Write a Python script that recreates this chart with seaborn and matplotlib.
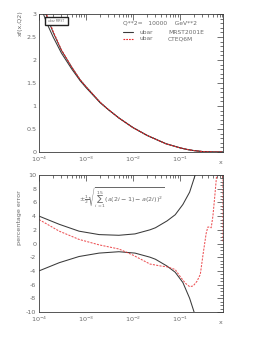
import numpy as np
import pandas as pd
import matplotlib
matplotlib.use("Agg")
import matplotlib.pyplot as plt
import matplotlib.ticker as mticker
from matplotlib.patches import Rectangle
import seaborn as sns

# ---- data ----
x_top = [1e-4, 1.5e-4, 2e-4, 3e-4, 5e-4, 7.5e-4, 1e-3, 2e-3, 3e-3, 5e-3, 1e-2,
         2e-2, 3e-2, 5e-2, 0.1, 0.15, 0.2, 0.3, 0.5, 0.82]
mrst_a = [3.25, 2.78, 2.50, 2.15, 1.80, 1.55, 1.40, 1.07, 0.92, 0.74, 0.53,
          0.36, 0.28, 0.18, 0.09, 0.05, 0.03, 0.01, 0.001, 0.0]
mrst_b = [3.40, 2.92, 2.60, 2.21, 1.84, 1.57, 1.42, 1.08, 0.92, 0.74, 0.53,
          0.36, 0.28, 0.18, 0.09, 0.05, 0.03, 0.01, 0.001, 0.0]
cteq = [3.45, 2.95, 2.62, 2.22, 1.84, 1.57, 1.42, 1.08, 0.92, 0.74, 0.53,
        0.36, 0.28, 0.18, 0.09, 0.05, 0.03, 0.01, 0.001, 0.0]

x_err = [1e-4, 2.7e-4, 7.1e-4, 1.9e-3, 5e-3, 1.1e-2, 2.3e-2, 3e-2, 5.3e-2,
         7.9e-2, 0.115, 0.16, 0.21, 0.25]
err_up = [4.0, 2.8, 1.8, 1.3, 1.2, 1.4, 2.0, 2.3, 3.3, 4.2, 5.7, 7.5, 10.0, 12.0]
err_lo = [-4.0, -2.8, -1.9, -1.4, -1.2, -1.4, -2.0, -2.3, -3.3, -4.2, -5.7, -8.0, -10.5, -12.0]

x_diff = [1e-4, 2.7e-4, 7.1e-4, 1.9e-3, 5e-3, 1e-2, 2.3e-2, 4e-2, 5.3e-2, 7.9e-2,
          0.1, 0.13, 0.16, 0.19, 0.23, 0.27, 0.31, 0.36, 0.39, 0.42, 0.46, 0.50,
          0.55, 0.61, 0.70, 0.819, 0.819]
diff = [3.5, 1.8, 0.6, -0.2, -0.8, -1.7, -3.0, -3.3, -3.4, -3.8,
        -4.8, -5.8, -6.3, -6.2, -5.5, -4.5, -1.5, 1.5, 2.4, 2.4, 2.3, 4.0,
        7.0, 10.5, 15.0, 15.0, 0.3]

legend_lines = ["Q**2=   10000    GeV**2", "ubar", "MRST2001E", "ubar", "CTEQ6M"]
formula = r"$\pm\frac{1}{2}\sqrt{\sum_{i=1}^{15}(a(2i-1)-a(2i))^{2}}$"

sns.set_style("white")
plt.rcParams['font.family'] = ['DejaVu Sans']
plt.rcParams['mathtext.fontset'] = 'dejavusans'

TXT = '#6a6a6a'
LC = '#3a3a3a'
RED = '#e8262a'
FS = 4.6

fig = plt.figure(figsize=(2.70, 3.49), dpi=100)
W, H = 270, 349
ax1 = fig.add_axes([39 / W, 1 - 152 / H, 184 / W, 138 / H])
ax2 = fig.add_axes([39 / W, 1 - 312 / H, 184 / W, 137 / H])

df_top = pd.DataFrame({"x": x_top, "a": mrst_a, "b": mrst_b, "c": cteq})
sns.lineplot(data=df_top, x="x", y="a", ax=ax1, color=LC, lw=0.75, estimator=None, sort=False)
sns.lineplot(data=df_top, x="x", y="b", ax=ax1, color=LC, lw=0.75, estimator=None, sort=False)
sns.lineplot(data=df_top, x="x", y="c", ax=ax1, color=RED, lw=0.75, estimator=None, sort=False,
             linestyle=(0, (2, 1.2)))

df_err = pd.DataFrame({"x": x_err, "up": err_up, "lo": err_lo})
sns.lineplot(data=df_err, x="x", y="up", ax=ax2, color=LC, lw=0.75, estimator=None, sort=False)
sns.lineplot(data=df_err, x="x", y="lo", ax=ax2, color=LC, lw=0.75, estimator=None, sort=False)
df_diff = pd.DataFrame({"x": x_diff, "d": diff})
sns.lineplot(data=df_diff, x="x", y="d", ax=ax2, color=RED, lw=0.75, estimator=None, sort=False,
             linestyle=(0, (2, 1.2)), alpha=0.8)

for ax, ylim, major, minor in [(ax1, (0, 3), 0.5, 0.1), (ax2, (-10, 10), 2, 0.5)]:
    ax.set_xscale('log')
    ax.set_xlim(1e-4, 0.82)
    ax.set_ylim(*ylim)
    ax.yaxis.set_major_locator(mticker.MultipleLocator(major))
    ax.yaxis.set_minor_locator(mticker.MultipleLocator(minor))
    ax.xaxis.set_major_locator(mticker.LogLocator(base=10, numticks=10))
    ax.xaxis.set_minor_locator(mticker.LogLocator(base=10, subs=np.arange(2, 10), numticks=20))
    ax.xaxis.set_major_formatter(mticker.LogFormatterMathtext())
    ax.tick_params(which='both', direction='in', top=True, right=True, colors=LC,
                   labelcolor=TXT, labelsize=FS, width=0.5, pad=2)
    ax.tick_params(which='major', length=4)
    ax.tick_params(which='minor', length=2)
    for s in ax.spines.values():
        s.set_linewidth(0.6)
        s.set_color(LC)
    ax.set_xlabel("")
    ax.set_ylabel("")
    ax.set_facecolor('white')

ax1.yaxis.set_major_formatter(mticker.FuncFormatter(lambda v, p: f"{v:g}"))
ax2.yaxis.set_major_formatter(mticker.FuncFormatter(lambda v, p: f"{v:g}"))

# axis labels (ROOT style)
fig.text(20 / W, 1 - 10 / H, "xf(x,Q2)", rotation=90, ha='center', va='top', fontsize=FS, color=TXT)
fig.text(20 / W, 1 - 190 / H, "percentage error", rotation=90, ha='center', va='top', fontsize=FS, color=TXT)
fig.text(221 / W, 1 - 163 / H, "x", ha='center', va='center', fontsize=FS, color=TXT)
fig.text(221 / W, 1 - 323 / H, "x", ha='center', va='center', fontsize=FS, color=TXT)

# legend-like text
fig.text(123 / W, 1 - 23 / H, legend_lines[0], ha='left', va='center', fontsize=FS - 0.3, color=TXT)
fig.add_artist(plt.Line2D([123 / W, 133 / W], [1 - 32 / H, 1 - 32 / H], color=LC, lw=0.8))
fig.text(140 / W, 1 - 32 / H, legend_lines[1], ha='left', va='center', fontsize=FS - 0.3, color=TXT)
fig.text(168 / W, 1 - 32 / H, legend_lines[2], ha='left', va='center', fontsize=FS - 0.3, color=TXT)
fig.add_artist(plt.Line2D([123 / W, 133 / W], [1 - 39 / H, 1 - 39 / H], color=RED, lw=0.8,
                          linestyle=(0, (1.5, 1))))
fig.text(140 / W, 1 - 39 / H, legend_lines[3], ha='left', va='center', fontsize=FS - 0.3, color=TXT)
fig.text(168 / W, 1 - 39 / H, legend_lines[4], ha='left', va='center', fontsize=FS - 0.3, color=TXT)

# small box at top-left of upper panel
ax1.add_patch(Rectangle((6 / 184, 1 - 11 / 138), 23 / 184, 8 / 138, transform=ax1.transAxes,
                        facecolor='white', edgecolor='#222222', lw=1.0, zorder=5))
ax1.text(17.5 / 184, 1 - 7 / 138, "ubar MRST", transform=ax1.transAxes, ha='center', va='center',
         fontsize=2.2, color=TXT, zorder=6)

# formula
ax2.text(0.22, 0.83, formula, transform=ax2.transAxes, ha='left', va='center', fontsize=FS,
         color=TXT)

fig.savefig("out.png", dpi=100, facecolor='white')
